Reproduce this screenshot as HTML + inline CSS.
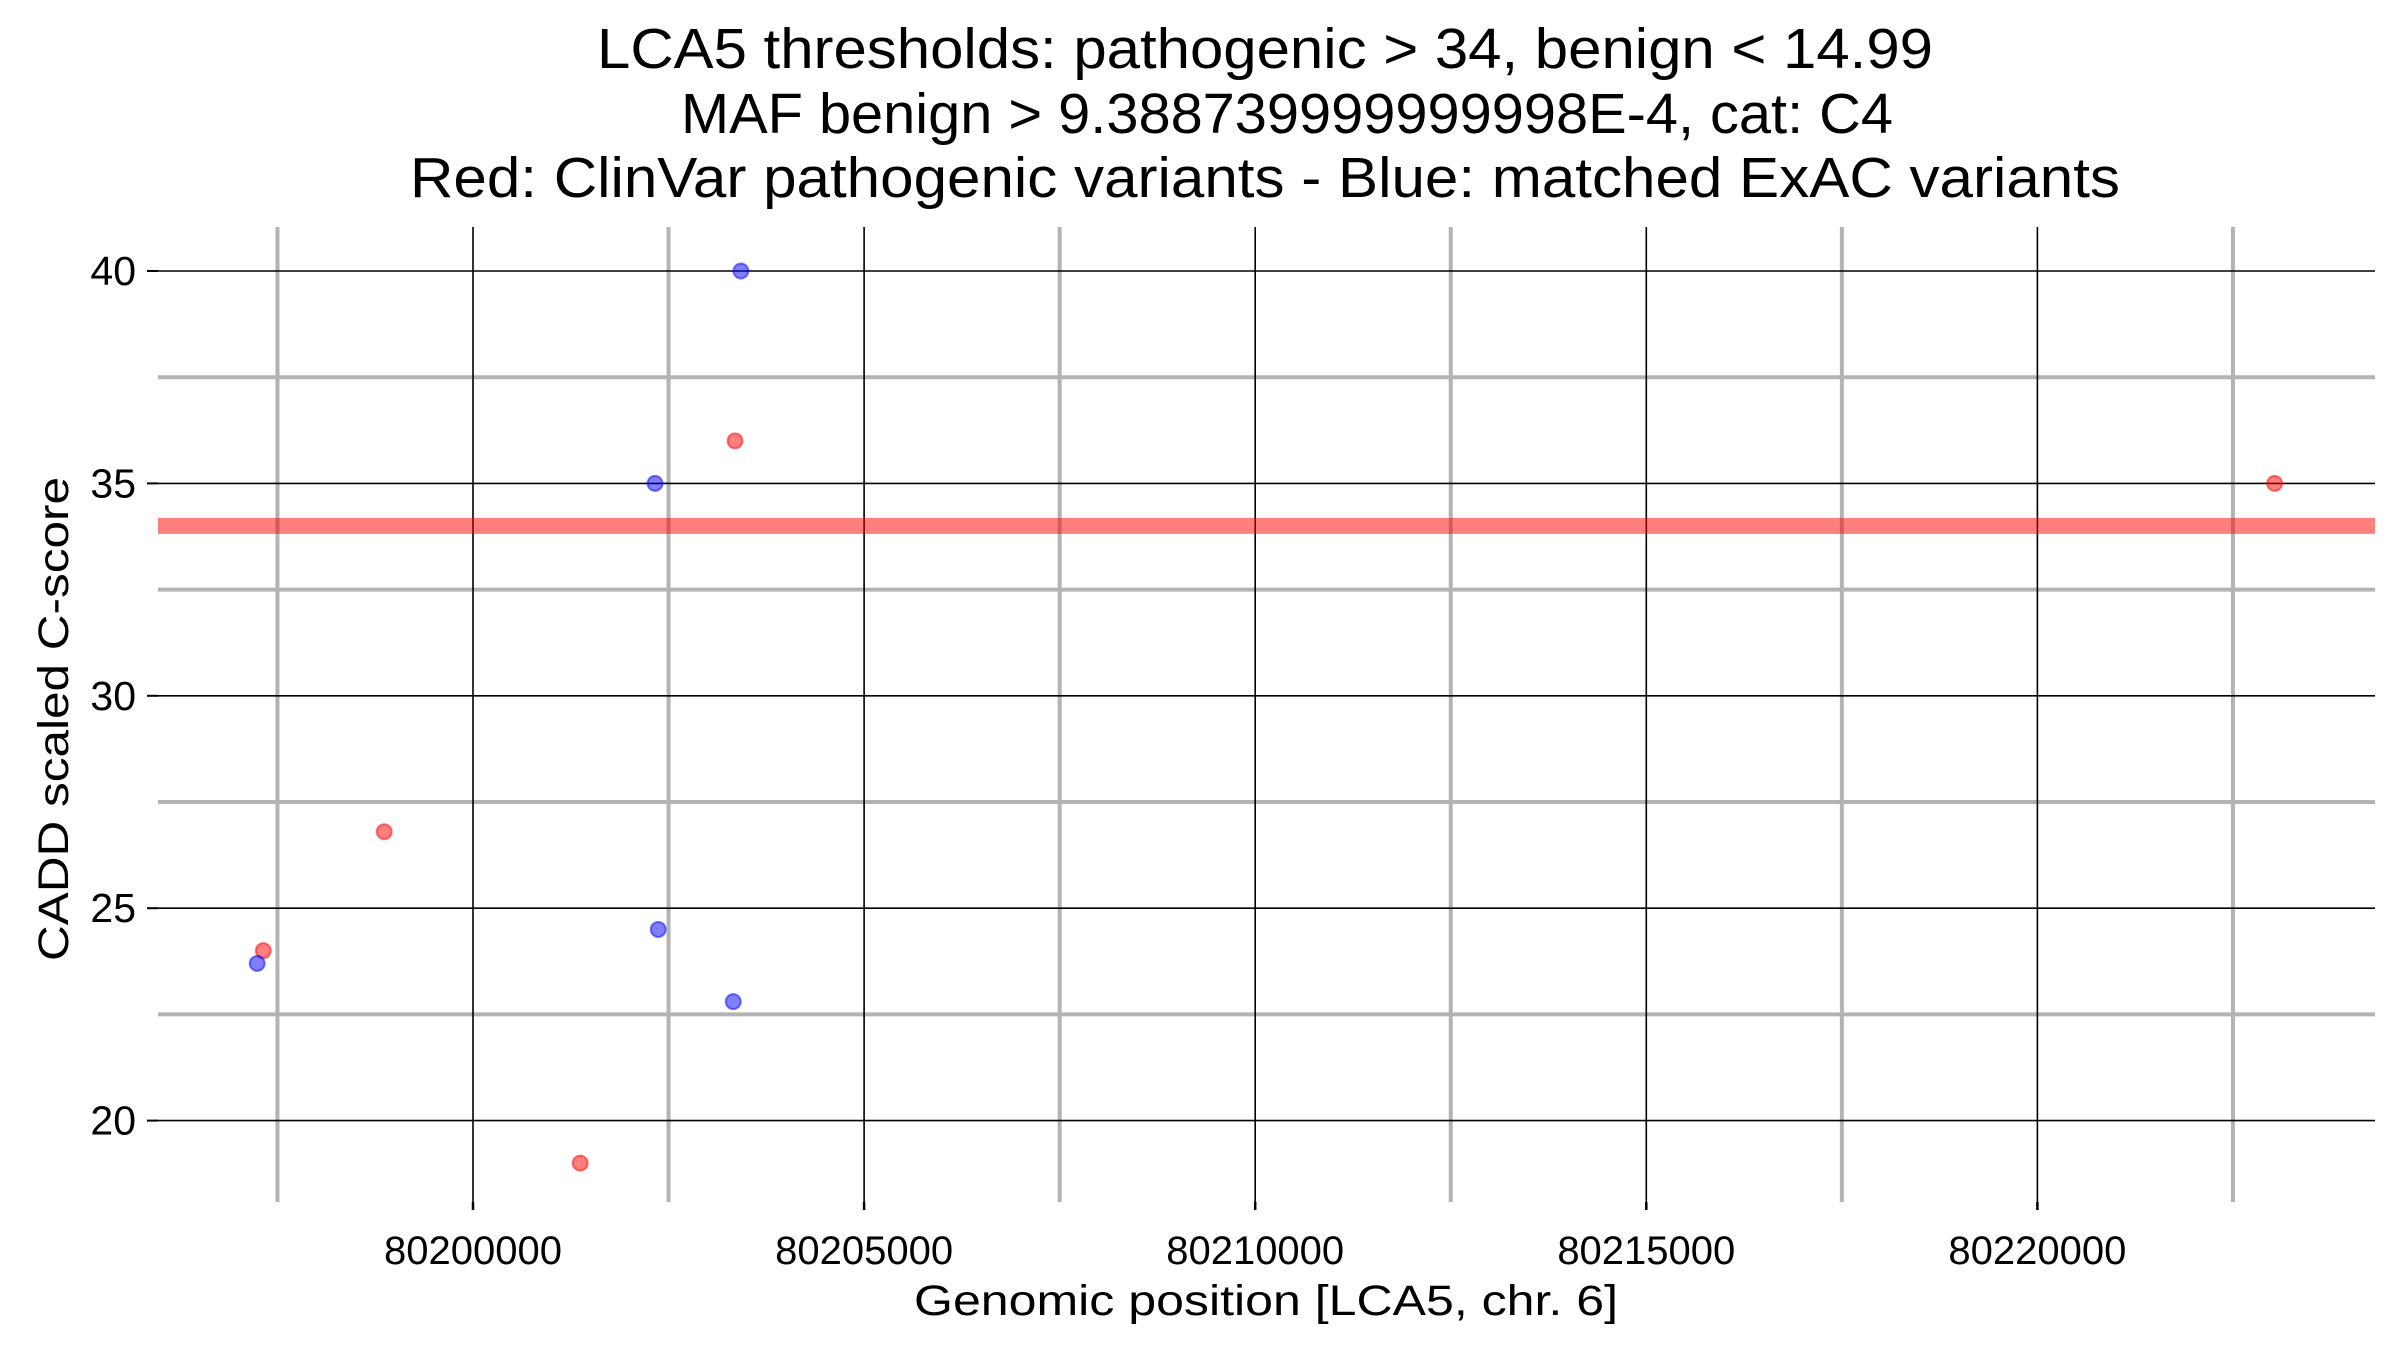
<!DOCTYPE html>
<html><head><meta charset="utf-8"><style>html,body{margin:0;padding:0;background:#fff}svg{display:block}</style></head>
<body>
<svg id="chart" width="2400" height="1350" viewBox="0 0 2400 1350" xmlns="http://www.w3.org/2000/svg" font-family="Liberation Sans, Arial, sans-serif">
<g text-anchor="middle" font-size="57" fill="#000">
<text x="1265" y="68" textLength="1336" lengthAdjust="spacingAndGlyphs">LCA5 thresholds: pathogenic &gt; 34, benign &lt; 14.99</text>
<text x="1287" y="133" textLength="1212" lengthAdjust="spacingAndGlyphs">MAF benign &gt; 9.388739999999998E-4, cat: C4</text>
<text x="1265" y="197" textLength="1710" lengthAdjust="spacingAndGlyphs">Red: ClinVar pathogenic variants - Blue: matched ExAC variants</text>
</g>
<g id="grid"></g>
<g id="marks"></g>
<g id="axes"></g>
<text x="1266" y="1315" text-anchor="middle" font-size="43" textLength="704" lengthAdjust="spacingAndGlyphs">Genomic position [LCA5, chr. 6]</text>
<text transform="translate(68,719) rotate(-90)" text-anchor="middle" font-size="43" textLength="484" lengthAdjust="spacingAndGlyphs">CADD scaled C-score</text>
</svg>
<script>
const xTicks = [80200000, 80205000, 80210000, 80215000, 80220000];
const xMinor = [80197500, 80202500, 80207500, 80212500, 80217500, 80222500];
const yTicks = [20, 25, 30, 35, 40];
const yMinor = [22.5, 27.5, 32.5, 37.5];
const threshold = 34;
const redX = [80197319, 80198865, 80201370, 80203350, 80223033];
const redY = [24.0, 26.8, 19.0, 36.0, 35.0];
const blueX = [80197241, 80202327, 80202368, 80203327, 80203425];
const blueY = [23.7, 35.0, 24.5, 22.8, 40.0];

const L = 158, R = 2375, T = 227, B = 1202;
const sx = v => 473 + (v - 80200000) / 5000 * 391.1;
const sy = v => 271 + (40 - v) / 5 * 212.4;
const NS = 'http://www.w3.org/2000/svg';
function mk(tag, parent, at) { const e = document.createElementNS(NS, tag); for (const k in at) e.setAttribute(k, at[k]); parent.appendChild(e); return e; }
const grid = document.getElementById('grid'), marks = document.getElementById('marks'), axes = document.getElementById('axes');

yMinor.forEach(v => { const e = mk('line', grid, {x1: L, x2: R, y1: sy(v), y2: sy(v), stroke: '#b3b3b3', 'stroke-width': 4});

 });
xMinor.forEach(v => { const e = mk('line', grid, {x1: sx(v), x2: sx(v), y1: T, y2: B, stroke: '#b3b3b3', 'stroke-width': 4});

 });
yTicks.forEach(v => { const e = mk('line', grid, {x1: L, x2: R, y1: sy(v), y2: sy(v), stroke: '#000', 'stroke-width': 1.6});

 });
xTicks.forEach(v => { const e = mk('line', grid, {x1: sx(v), x2: sx(v), y1: T, y2: B, stroke: '#000', 'stroke-width': 1.6});

 });
const th = mk('line', grid, {x1: L, x2: R, y1: sy(threshold), y2: sy(threshold), stroke: 'rgba(255,0,0,0.5)', 'stroke-width': 16});



redX.forEach((x, i) => { const c = mk('circle', marks, {cx: sx(x), cy: sy(redY[i]), r: 7.5, fill: 'rgba(255,0,0,0.5)', stroke: 'rgba(255,0,0,0.5)', 'stroke-width': 2});

 });
blueX.forEach((x, i) => { const c = mk('circle', marks, {cx: sx(x), cy: sy(blueY[i]), r: 7.5, fill: 'rgba(0,0,255,0.5)', stroke: 'rgba(0,0,255,0.5)', 'stroke-width': 2});

 });

yTicks.forEach(v => {
  const t = mk('line', axes, {x1: L - 11, x2: L, y1: sy(v), y2: sy(v), stroke: '#000', 'stroke-width': 2});
  
  
  const l = mk('text', axes, {x: L - 22, y: sy(v) + 14, 'text-anchor': 'end', 'font-size': 41});
  l.textContent = String(v);
  
  
});
xTicks.forEach(v => {
  const t = mk('line', axes, {x1: sx(v), x2: sx(v), y1: B, y2: B + 8, stroke: '#000', 'stroke-width': 2.5});
  
  
  const l = mk('text', axes, {x: sx(v), y: B + 62, 'text-anchor': 'middle', 'font-size': 40});
  l.textContent = String(v);
  
  
});
</script>
</body></html>
